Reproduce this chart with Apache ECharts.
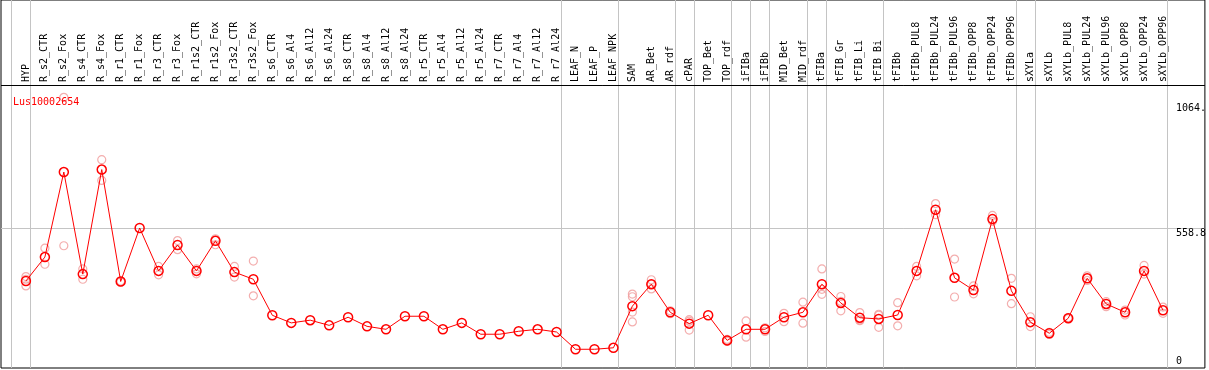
<!DOCTYPE html>
<html>
<head>
<meta charset="utf-8">
<script src="https://cdn.jsdelivr.net/npm/echarts@6/dist/echarts.min.js"></script>
<style>html,body{margin:0;padding:0;background:#fff}#c{width:1209px;height:370px}</style>
</head>
<body>
<div id="c"></div>
<script>
const title = 'Lus10002654';
const categories = ['HYP','R_s2_CTR','R_s2_Fox','R_s4_CTR','R_s4_Fox','R_r1_CTR','R_r1_Fox','R_r3_CTR','R_r3_Fox','R_r1s2_CTR','R_r1s2_Fox','R_r3s2_CTR','R_r3s2_Fox','R_s6_CTR','R_s6_Al4','R_s6_Al12','R_s6_Al24','R_s8_CTR','R_s8_Al4','R_s8_Al12','R_s8_Al24','R_r5_CTR','R_r5_Al4','R_r5_Al12','R_r5_Al24','R_r7_CTR','R_r7_Al4','R_r7_Al12','R_r7_Al24','LEAF_N','LEAF_P','LEAF_NPK','SAM','AR_Bet','AR_rdf','cPAR','TOP_Bet','TOP_rdf','iFIBa','iFIBb','MID_Bet','MID_rdf','tFIBa','tFIB_Gr','tFIB_Li','tFIB_Bi','tFIBb','tFIBb_PUL8','tFIBb_PUL24','tFIBb_PUL96','tFIBb_OPP8','tFIBb_OPP24','tFIBb_OPP96','sXYLa','sXYLb','sXYLb_PUL8','sXYLb_PUL24','sXYLb_PUL96','sXYLb_OPP8','sXYLb_OPP24','sXYLb_OPP96'];
const meanValues = [345,442,787,373,797,343,560,386,491,386,508,381,352,206,175,186,165,198,161,149,202,202,149,175,129,129,141,149,138,68,68,74,243,332,218,172,206,104,149,149,198,218,332,256,196,191,207,386,634,358,308,596,305,178,133,194,356,252,218,386,226];
const rep1 = [363,478,488,394,837,345,null,404,509,394,516,404,426,null,null,null,null,null,null,null,null,null,null,null,null,null,null,null,null,null,null,null,292,350,224,188,null,108,183,155,214,259,394,282,217,210,257,404,659,434,325,611,356,200,137,196,366,261,227,408,239];
const rep2 = [352,413,1090,352,753,341,null,370,472,374,492,361,285,null,null,null,null,null,null,null,null,null,null,null,null,null,null,null,null,null,null,null,281,313,212,146,null,100,117,140,180,174,291,224,187,157,163,366,614,280,293,587,253,160,128,192,347,241,207,373,214];
const rep3 = [325,null,null,null,null,null,null,null,null,null,null,null,null,null,null,null,null,null,null,null,null,null,null,null,null,null,null,null,null,null,null,null,219,332,null,182,null,null,null,null,null,null,311,262,184,206,null,null,null,null,null,null,null,null,null,null,null,null,null,null,null];
const rep4 = [null,null,null,null,null,null,null,null,null,null,null,null,null,null,null,null,null,null,null,null,null,null,null,null,null,null,null,null,null,null,null,null,179,null,null,null,null,null,null,null,null,null,null,null,null,null,null,null,null,null,null,null,null,null,null,null,null,null,null,null,null];
const yTickValues = [0, 558.8, 1064];
const yTickLabels = ['0', '558.8', '1064.'];
const yGridValues = [558.8];
const groupEnds = [-1,0,28,31,34,35,37,38,39,41,42,45,52,53,60];

const repData = [];
[rep1, rep2, rep3, rep4].forEach(r => r.forEach((v, i) => { if (v != null) repData.push([i, v]); }));
const meanData = meanValues.map((v, i) => [i, v]);
const sepPositions = groupEnds.map(g => g + 0.2368);
const headerLine = 1140.4;
const mono = 'DejaVu Sans Mono';

const chart = echarts.init(document.getElementById('c'), null, {renderer: 'canvas'});
chart.setOption({
  animation: false,
  backgroundColor: '#fff',
  title: {text: title, left: 8, top: 92, textStyle: {color: '#ff0000', fontSize: 10, fontFamily: mono, fontWeight: 'normal'}},
  grid: {left: 1, top: 0, width: 1207, height: 368, show: true, borderColor: '#000', borderWidth: 1, backgroundColor: '#fff'},
  xAxis: {
    type: 'value', min: -1.31579, max: 62.2105, position: 'top', offset: -83,
    axisLine: {show: false},
    axisTick: {show: false},
    splitLine: {show: false},
    axisLabel: {
      customValues: categories.map((c, i) => i),
      formatter: v => categories[Math.round(v)] || '',
      rotate: 90, margin: 1, fontSize: 10, fontFamily: mono, color: '#000'
    }
  },
  yAxis: {
    type: 'value', min: -8, max: 1485, position: 'right', offset: -29,
    axisLine: {show: false},
    axisTick: {show: false, customValues: yGridValues},
    splitLine: {show: true, lineStyle: {color: '#c4c4c4', width: 1}},
    axisLabel: {
      customValues: yTickValues,
      formatter: v => yTickLabels[yTickValues.indexOf(v)] ?? '',
      margin: 0, align: 'left', verticalAlign: 'top', verticalAlignMinLabel: 'bottom',
      fontSize: 10, fontFamily: mono, color: '#000'
    }
  },
  series: [
    {
      type: 'scatter', data: repData, symbol: 'circle', symbolSize: 8, z: 2,
      itemStyle: {color: 'rgba(0,0,0,0)', borderColor: '#f09a9a', borderWidth: 1.2},
      markLine: {silent: true, symbol: 'none', label: {show: false}, z: 1,
        lineStyle: {color: '#c4c4c4', type: 'solid', width: 1},
        data: sepPositions.map(p => ({xAxis: p})).concat([{yAxis: headerLine, lineStyle: {color: '#000', type: 'solid', width: 1}}])}
    },
    {
      type: 'line', data: meanData, symbol: 'circle', symbolSize: 9, z: 3,
      lineStyle: {color: '#ff0000', width: 1},
      itemStyle: {color: 'rgba(0,0,0,0)', borderColor: '#ff0000', borderWidth: 1.5}
    }
  ]
});
</script>
</body>
</html>
